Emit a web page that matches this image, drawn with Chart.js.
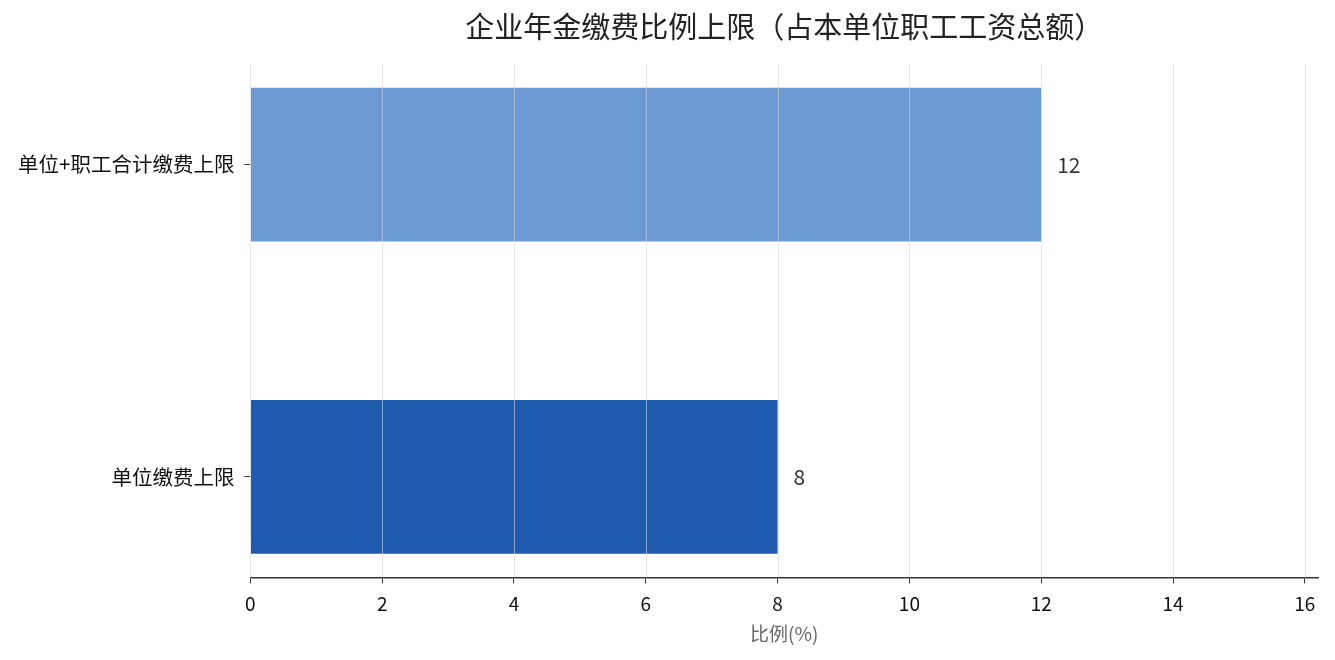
<!DOCTYPE html>
<html><head><meta charset="utf-8">
<script src="https://cdn.jsdelivr.net/npm/chart.js@4/dist/chart.umd.min.js"></script>
<style>html,body{margin:0;padding:0;background:#fff}#wrap{width:1335px;height:660px}</style>
</head><body><div id="wrap"><canvas id="c"></canvas></div>
<script>
// ===== data =====
const CATEGORIES=['单位+职工合计缴费上限','单位缴费上限'];
const VALUES=[12,8];
const BAR_COLORS=['#6B9BD2','#1F5BAF'];
const X_TICKS=[0,2,4,6,8,10,12,14,16];
const FONT='"Noto Sans CJK SC","Noto Sans",sans-serif';

// grid drawn over the bars, like the source
const gridOnTop={id:'gridOnTop',afterDatasetsDraw(chart){
  const {ctx,chartArea:a,scales:{x}}=chart;ctx.save();
  ctx.strokeStyle='rgba(215,215,215,0.6)';ctx.lineWidth=1;
  X_TICKS.forEach(v=>{const px=Math.round(x.getPixelForValue(v))+0.5;ctx.beginPath();ctx.moveTo(px,a.top);ctx.lineTo(px,a.bottom);ctx.stroke();});
  ctx.restore();
}};
const valueLabels={id:'valueLabels',afterDatasetsDraw(chart){
  const {ctx}=chart;const meta=chart.getDatasetMeta(0);ctx.save();
  ctx.font='21px '+FONT;ctx.fillStyle='#333';ctx.textBaseline='middle';ctx.textAlign='left';
  meta.data.forEach((b,i)=>ctx.fillText(String(VALUES[i]),b.x+16,b.y));
  ctx.restore();
}};

new Chart(document.getElementById('c'),{
  type:'bar',
  data:{datasets:[{data:VALUES.map((v,i)=>({x:v,y:i})),backgroundColor:BAR_COLORS,borderWidth:0,barPercentage:0.493,categoryPercentage:1}]},
  plugins:[gridOnTop,valueLabels],
  options:{indexAxis:'y',responsive:true,maintainAspectRatio:false,animation:false,
    layout:{padding:{top:6,right:17,bottom:11,left:8}},
    plugins:{legend:{display:false},tooltip:{enabled:false},
      title:{display:true,fullSize:false,text:'企业年金缴费比例上限（占本单位职工工资总额）',color:'#222',font:{family:FONT,size:29,weight:'normal'},padding:{top:4,bottom:19}}},
    scales:{
      x:{type:'linear',min:0,max:16.2,afterBuildTicks:s=>{s.ticks=X_TICKS.map(v=>({value:v}));},
        grid:{display:true,drawOnChartArea:false,drawTicks:true,tickLength:6,color:'#333'},
        border:{display:true,color:'#333',width:1.5},
        ticks:{color:'#111',font:{family:FONT,size:19},padding:9},
        title:{display:true,text:'比例(%)',color:'#666',font:{family:FONT,size:19},padding:{top:-2,bottom:4}}},
      y:{type:'linear',reverse:true,offset:false,min:-0.323,max:1.322,afterBuildTicks:s=>{s.ticks=[0,1].map(v=>({value:v}));},
        grid:{display:true,offset:false,drawOnChartArea:false,drawTicks:true,tickLength:6,color:'#333'},
        border:{display:false},
        ticks:{color:'#111',font:{family:FONT,size:20.5},padding:10,callback:v=>CATEGORIES[v]}}
    }
  }
});
</script></body></html>
